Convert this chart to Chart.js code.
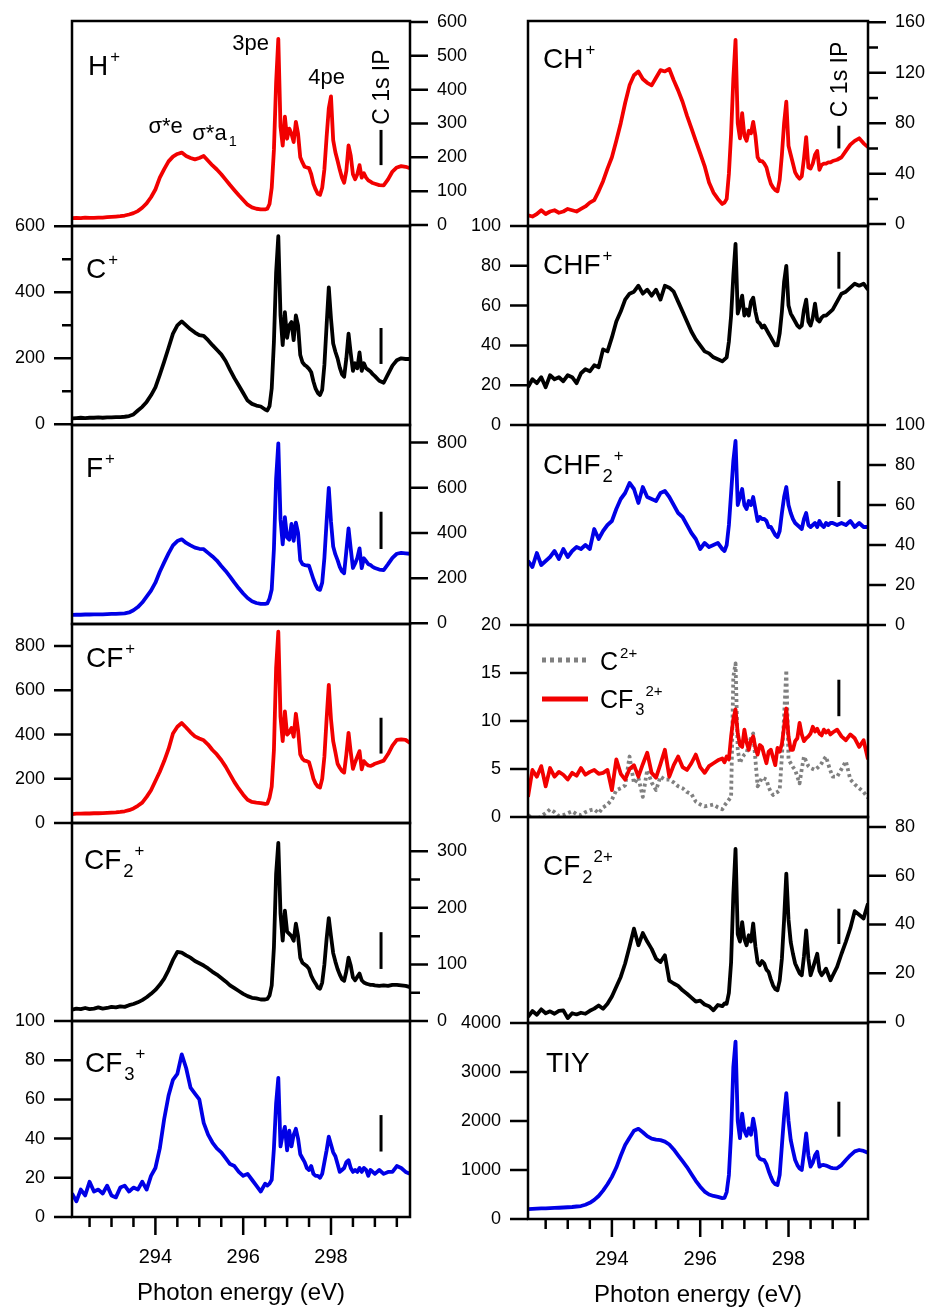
<!DOCTYPE html>
<html>
<head>
<meta charset="utf-8">
<title>CHF3 C 1s partial ion yields</title>
<script src="https://cdn.jsdelivr.net/npm/chart.js@4.4.1/dist/chart.umd.min.js"></script>
<style>
  html, body { margin: 0; padding: 0; background: #fff; }
  #fig { position: relative; width: 933px; height: 1308px; overflow: hidden; }
  #fig canvas { position: absolute; }
</style>
</head>
<body>
<div id="fig"></div>
<script>
// photon energy grid (eV), finer across the Rydberg region
var energy = [
  292.1, 292.2, 292.3, 292.4, 292.5, 292.6, 292.7, 292.8, 292.9, 293.0, 293.1, 293.2, 293.3, 293.4, 293.5,
  293.6, 293.7, 293.8, 293.9, 294.0, 294.1, 294.2, 294.3, 294.4, 294.5, 294.6, 294.7, 294.8, 294.9, 295.0,
  295.1, 295.2, 295.3, 295.4, 295.5, 295.6, 295.7, 295.8, 295.9, 296.0, 296.1, 296.2, 296.3, 296.4, 296.5,
  296.55, 296.6, 296.65, 296.7, 296.75, 296.8, 296.85, 296.9, 296.95, 297.0,
  297.05, 297.1, 297.15, 297.2, 297.25, 297.3, 297.35, 297.4, 297.45, 297.5,
  297.55, 297.6, 297.65, 297.7, 297.75, 297.8, 297.85, 297.9, 297.95, 298.0,
  298.05, 298.1, 298.15, 298.2, 298.25, 298.3, 298.35, 298.4, 298.45, 298.5,
  298.55, 298.6, 298.65, 298.7, 298.75, 298.8, 298.85, 298.9, 298.95, 299.0,
  299.1, 299.2, 299.3, 299.4, 299.5, 299.6, 299.7, 299.8
];

var hPlus = [
  20, 21, 20, 22, 21, 21, 22, 22, 23, 24, 25, 26, 28, 31, 35,
  41, 51, 64, 82, 105, 140, 165, 188, 202, 210, 214, 204, 198, 194, 198,
  204, 190, 176, 164, 150, 134, 118, 103, 88, 74, 60, 52, 48, 46, 46,
  48, 62, 110, 222, 420, 550, 290, 235, 320, 255,
  285, 270, 245, 305, 270, 200, 185, 172, 170, 168,
  150, 122, 105, 92, 89, 110, 165, 260, 345, 380,
  251, 215, 190, 163, 140, 125, 160, 235, 205, 150,
  135, 150, 177, 140, 153, 140, 132, 128, 124, 122,
  118, 117, 135, 158, 170, 174, 172, 168
];
var cPlus = [
  18, 19, 20, 19, 20, 20, 21, 20, 21, 21, 22, 22, 23, 25, 30,
  42, 53, 68, 88, 112, 150, 190, 232, 275, 300, 312, 300, 288, 278, 270,
  268, 255, 240, 226, 212, 192, 165, 140, 118, 95, 72, 62, 57, 54, 45,
  42, 55, 109, 250, 460, 570, 330, 240, 340, 262,
  300, 310, 255, 330, 300, 210, 188, 180, 175, 168,
  158, 130, 108, 95, 89, 105, 180, 300, 415, 320,
  245, 220, 200, 172, 152, 144, 200, 275, 215, 162,
  185, 170, 218, 162, 185, 170, 165, 160, 152, 146,
  132, 126, 152, 178, 194, 200, 198, 198
];
var fPlus = [
  37, 38, 38, 39, 39, 40, 40, 40, 41, 42, 42, 43, 44, 48, 58,
  72, 92, 118, 145, 180, 228, 270, 310, 345, 364, 372, 356, 345, 335, 330,
  328, 312, 296, 278, 254, 232, 207, 180, 155, 132, 112, 98, 90, 86, 86,
  88, 110, 150, 330, 640, 797, 460, 350, 470, 380,
  370, 440, 365, 446, 400, 280, 262, 258, 256, 255,
  225, 195, 170, 152, 148, 180, 290, 450, 600, 450,
  340, 305, 280, 250, 230, 222, 320, 420, 330, 245,
  265, 290, 332, 244, 288, 275, 262, 258, 250, 245,
  238, 236, 262, 290, 308, 312, 310, 308
];
var cfPlus = [
  40, 42, 42, 43, 43, 44, 44, 45, 46, 47, 48, 50, 53, 58, 66,
  78, 92, 118, 148, 190, 232, 280, 335, 405, 435, 452, 432, 410, 392, 382,
  374, 355, 330, 310, 285, 255, 220, 185, 155, 128, 105, 95, 92, 90, 86,
  88, 115, 165, 330, 700, 865, 480, 370, 505, 400,
  410, 430, 390, 494, 420, 310, 290, 282, 280, 275,
  240, 200, 178, 165, 160, 200, 300, 470, 625, 470,
  370, 320, 268, 250, 235, 228, 310, 408, 320, 245,
  275, 300, 325, 243, 280, 268, 260, 258, 262, 268,
  275, 282, 312, 350, 376, 378, 376, 362
];
var cf2Plus = [
  20, 22, 21, 23, 21, 22, 24, 22, 23, 25, 24, 26, 25, 28, 30,
  33, 37, 42, 48, 55, 64, 75, 90, 108, 122, 121, 116, 112, 106, 102,
  98, 93, 87, 82, 76, 70, 63, 58, 53, 48, 44, 41, 40, 38, 38,
  39, 45, 63, 130, 260, 315, 190, 142, 195, 158,
  154, 150, 142, 172, 150, 112, 103, 100, 97, 92,
  80, 72, 66, 59, 57, 68, 100, 145, 182, 150,
  120, 105, 92, 82, 74, 71, 88, 112, 98, 77,
  72, 78, 84, 72, 68, 66, 65, 64, 64, 63,
  62, 63, 62, 64, 64, 63, 62, 60
];
var cf3Plus = [
  12, 8, 14, 11, 18, 13, 14, 12, 16, 11, 10, 15, 16, 13, 15,
  14, 18, 14, 21, 25, 35, 50, 62, 70, 73, 83, 76, 66, 63, 60,
  48, 42, 38, 35, 33, 30, 27, 26, 23, 21, 22, 19, 16, 13, 17,
  16, 17, 19, 35, 58, 71, 36, 42, 46, 34,
  44, 36, 42, 45, 40, 32, 30, 28, 25, 24,
  26, 22, 21, 21, 20, 22, 28, 34, 41, 37,
  33, 31, 27, 23, 24, 25, 28, 29, 25, 23,
  24, 23, 25, 23, 25, 24, 21, 24, 23, 22,
  24, 22, 23, 23, 26, 25, 23, 22
];
var chPlus = [
  7, 6, 8, 11, 8, 10, 11, 9, 10, 12, 11, 10, 12, 14, 17,
  19, 26, 34, 44, 53, 66, 80, 96, 110, 118, 121, 115, 112, 110, 116,
  122, 121, 123, 114, 106, 97, 86, 76, 66, 56, 46, 33, 25, 20, 16,
  17, 20, 40, 72, 115, 146, 80, 68, 88, 70,
  66, 74, 72, 81, 70, 53, 50, 50, 48, 45,
  38, 32, 29, 27, 26, 35, 55, 80, 97, 62,
  55, 48, 41, 38, 36, 38, 52, 69, 45, 44,
  48, 55, 58, 43, 47, 48, 48, 49, 49, 50,
  51, 53, 58, 63, 66, 68, 64, 61
];
var chfPlus = [
  19, 23, 21, 24, 19, 25, 23, 24, 22, 25, 24, 21, 26, 28, 27,
  30, 29, 38, 37, 44, 52, 57, 63, 66, 67, 70, 66, 68, 65, 68,
  63, 70, 69, 67, 62, 57, 52, 47, 43, 40, 37, 36, 34, 33, 32,
  33, 34, 42, 55, 75, 91, 56, 60, 65, 55,
  58, 55, 62, 64, 57, 52, 51, 49, 50, 48,
  46, 44, 42, 40, 40, 46, 57, 72, 80, 60,
  56, 54, 52, 50, 49, 50, 58, 63, 52, 50,
  54, 61, 53, 52, 54, 55, 55, 56, 57, 58,
  62, 66, 67, 69, 71, 70, 71, 68
];
var chf2Plus = [
  32, 29, 36, 30, 32, 34, 37, 33, 38, 34, 37, 39, 38, 40, 38,
  48, 43, 47, 50, 52, 58, 63, 66, 71, 68, 61, 69, 64, 63, 62,
  66, 67, 64, 60, 56, 54, 50, 46, 43, 38, 41, 39, 40, 41, 38,
  37, 40, 50, 66, 82, 92, 60, 64, 68, 60,
  58, 62, 60, 64, 58, 52, 54, 53, 53, 52,
  49, 49, 47, 45, 44, 47, 56, 64, 69, 60,
  56, 53, 51, 50, 49, 48, 53, 56, 50, 49,
  50, 51, 49, 52, 50, 49, 51, 50, 51, 51,
  50, 51, 50, 52, 49, 51, 49, 49
];
var cf3Dication = [
  2.1, 4.9, 4.2, 5.3, 3.2, 5.1, 4.2, 4.7, 4.4, 3.9, 4.6, 4.3, 5.1, 4.4, 4.7,
  4.9, 4.5, 4.6, 4.9, 2.8, 6.0, 4.5, 3.9, 5.0, 5.4, 4.2, 5.5, 6.7, 4.6, 4.1,
  5.5, 7.0, 4.2, 5.4, 6.3, 5.2, 4.9, 5.6, 6.5, 5.2, 4.6, 5.3, 5.6, 5.9, 6.1,
  5.7, 6.3, 6.0, 8.4, 10.2, 11.2, 8.7, 7.5, 7.3, 9.1,
  7.8, 7.0, 8.0, 8.4, 7.2, 6.5, 7.5, 7.3, 6.4, 5.6,
  6.8, 7.0, 6.2, 5.4, 7.2, 6.8, 7.6, 9.4, 11.3, 8.4,
  7.0, 7.0, 7.9, 8.2, 9.8, 8.6, 7.9, 8.2, 8.4, 8.7,
  9.4, 8.9, 9.2, 8.7, 8.5, 9.1, 8.8, 9.0, 8.6, 8.8,
  9.1, 8.4, 8.0, 8.6, 8.2, 7.3, 8.0, 6.0
];
var cDication = [
  0.2, -0.1, -0.3, 0.1, 0.4, 0.8, 0.5, 0.1, 0.2, 0.4, 0.6, 0.3, 0.2, 0.5, 0.7,
  0.8, 0.4, 1.0, 1.3, 1.8, 2.8, 3.0, 3.3, 6.3, 3.5, 4.1, 2.1, 4.9, 3.6, 2.8,
  4.2, 3.9, 3.9, 3.6, 3.2, 3.0, 2.6, 2.4, 1.6, 1.3, 1.1, 1.2, 1.3, 1.0, 0.8,
  1.2, 1.5, 1.8, 2.1, 14.6, 16.0, 7.0, 5.6, 6.2, 6.5,
  6.7, 7.5, 8.3, 8.7, 6.0, 3.2, 3.6, 4.1, 4.0, 3.9,
  3.1, 2.6, 2.3, 2.5, 2.6, 2.8, 6.3, 10.5, 15.3, 6.0,
  5.6, 5.2, 4.9, 4.2, 3.5, 5.0, 6.3, 5.8, 5.3, 5.1,
  5.0, 4.9, 5.1, 5.3, 5.6, 6.0, 6.3, 5.5, 4.8, 4.2,
  4.2, 5.0, 5.8, 3.9, 3.4, 3.0, 2.6, 2.0
];
var cf2Dication = [
  2.1, 4.5, 3.0, 5.2, 3.6, 4.4, 3.4, 4.6, 4.8, 1.6, 3.6, 3.1, 3.8, 3.4, 4.6,
  5.5, 6.8, 5.4, 7.5, 10.5, 14.5, 18.5, 24.0, 31.0, 38.3, 31.5, 36.5, 33.0, 30.0, 26.0,
  24.6, 27.4, 17.0, 15.8, 14.8, 13.0, 11.6, 10.0, 8.4, 8.8, 7.2, 6.5, 4.8, 7.0, 6.5,
  7.6, 7.5, 12, 24.6, 52, 71, 36, 33, 41, 34,
  31.5, 35.6, 33, 40.4, 31, 24.5, 23.3, 25, 24, 21.5,
  20.5, 17.5, 15, 13.5, 13, 17, 26, 42, 60.9, 42,
  32.8, 28, 24, 22, 20, 19.2, 27, 37.6, 26, 19.2,
  22, 25, 28, 21, 19.2, 20.5, 21.9, 19.5, 17.1, 19,
  22.6, 28, 33, 38.5, 45.5, 44, 42.5, 48.6
];
var tiy = [
  200, 205, 210, 215, 215, 220, 225, 230, 235, 240, 245, 255, 265, 290, 330,
  390, 470, 580, 710, 860, 1050, 1290, 1510, 1660, 1800, 1840, 1770, 1690, 1640, 1620,
  1610, 1580, 1520, 1420, 1300, 1180, 1060, 920, 780, 660, 560, 500, 470, 450, 425,
  430, 550, 900, 1750, 3100, 3620, 2000, 1650, 2150, 1800,
  1700, 1850, 1720, 2050, 1800, 1300, 1230, 1210, 1200, 1120,
  980, 860, 760, 710, 694, 900, 1500, 2100, 2570, 2000,
  1612, 1400, 1204, 1100, 1030, 1000, 1350, 1748, 1300, 1068,
  1150, 1300, 1370, 1068, 1100, 1102, 1090, 1070, 1050, 1040,
  1034, 1100, 1204, 1300, 1380, 1408, 1390, 1350
];

// C 1s ionisation potential and the bar drawn at it in each panel (low, high)
var ipEnergy = 299.14;
var ipH = [177, 281], ipC = [183, 292], ipF = [329, 494], ipCF = [314, 476];
var ipCF2 = [92, 157], ipCF3 = [33.4, 52], ipCH = [60, 78], ipCHF = [68.5, 87];
var ipCHF2 = [54, 72], ipDi = [10.5, 14.3], ipCF2Di = [32, 46.5], ipTIY = [1680, 2394];

var xMajor = [294, 296, 298];
var xMinor = [292.5, 293, 293.5, 294.5, 295, 295.5, 296.5, 297, 297.5, 298.5, 299, 299.5];

var RED = '#f20000', BLUE = '#0000e6', BLACK = '#000000', GRAY = '#808080';
var FONT = "'Liberation Sans', Arial, sans-serif";

var cols = [
  { left: 72, width: 338, padL: 72, padR: 70 },
  { left: 528, width: 340, padL: 72, padR: 65 }
];

var panels = [
  { col: 0, top: 21, h: 205, side: 'right', min: -3, max: 603, ticks: [0, 100, 200, 300, 400, 500, 600], minor: [],
    series: [{ data: hPlus, color: RED }], ip: ipH, ipText: 296,
    label: [['H', 'n'], ['+', 'sup']], lx: 16, ly: 54,
    notes: [
      { x: 293.84, y: 272, parts: [['σ*e', 'n']] },
      { x: 294.84, y: 251, parts: [['σ*a', 'n'], ['1', 'sub']] },
      { x: 295.75, y: 517, parts: [['3pe', 'n']] },
      { x: 297.48, y: 417, parts: [['4pe', 'n']] }
    ] },
  { col: 0, top: 226, h: 199, side: 'left', min: -2, max: 601, ticks: [0, 200, 400, 600], minor: [100, 300, 500],
    series: [{ data: cPlus, color: BLACK }], ip: ipC,
    label: [['C', 'n'], ['+', 'sup']], lx: 14, ly: 52 },
  { col: 0, top: 425, h: 199, side: 'right', min: -3, max: 878, ticks: [0, 200, 400, 600, 800], minor: [],
    series: [{ data: fPlus, color: BLUE }], ip: ipF,
    label: [['F', 'n'], ['+', 'sup']], lx: 14, ly: 52 },
  { col: 0, top: 624, h: 199, side: 'left', min: 0, max: 900, ticks: [0, 200, 400, 600, 800], minor: [],
    series: [{ data: cfPlus, color: RED }], ip: ipCF,
    label: [['CF', 'n'], ['+', 'sup']], lx: 14, ly: 43 },
  { col: 0, top: 823, h: 198, side: 'right', min: 0, max: 350, ticks: [0, 100, 200, 300], minor: [50, 150, 250],
    series: [{ data: cf2Plus, color: BLACK }], ip: ipCF2,
    label: [['CF', 'n'], ['2', 'sub'], ['+', 'sup']], lx: 12, ly: 46 },
  { col: 0, top: 1021, h: 196, side: 'left', min: 0, max: 100, ticks: [0, 20, 40, 60, 80, 100], minor: [],
    series: [{ data: cf3Plus, color: BLUE }], ip: ipCF3, bottom: true,
    label: [['CF', 'n'], ['3', 'sub'], ['+', 'sup']], lx: 13, ly: 51 },

  { col: 1, top: 21, h: 205, side: 'right', min: -1.5, max: 161, ticks: [0, 40, 80, 120, 160], minor: [20, 60, 100, 140],
    series: [{ data: chPlus, color: RED }], ip: ipCH, ipText: 84.8,
    label: [['CH', 'n'], ['+', 'sup']], lx: 15, ly: 47 },
  { col: 1, top: 226, h: 199, side: 'left', min: 0, max: 100, ticks: [0, 20, 40, 60, 80, 100], minor: [],
    series: [{ data: chfPlus, color: BLACK }], ip: ipCHF,
    label: [['CHF', 'n'], ['+', 'sup']], lx: 15, ly: 48 },
  { col: 1, top: 425, h: 200, side: 'right', min: 0, max: 100, ticks: [0, 20, 40, 60, 80, 100], minor: [],
    series: [{ data: chf2Plus, color: BLUE }], ip: ipCHF2,
    label: [['CHF', 'n'], ['2', 'sub'], ['+', 'sup']], lx: 15, ly: 49 },
  { col: 1, top: 625, h: 192, side: 'left', min: 0, max: 20, ticks: [0, 5, 10, 15, 20], minor: [],
    series: [{ data: cf3Dication, color: RED }, { data: cDication, color: GRAY, dash: [3, 3] }], ip: ipDi,
    legend: true },
  { col: 1, top: 817, h: 206, side: 'right', min: -0.4, max: 84.1, ticks: [0, 20, 40, 60, 80], minor: [],
    series: [{ data: cf2Dication, color: BLACK }], ip: ipCF2Di,
    label: [['CF', 'n'], ['2', 'sub'], ['2+', 'sup']], lx: 15, ly: 58 },
  { col: 1, top: 1023, h: 196, side: 'left', min: 0, max: 4000, ticks: [0, 1000, 2000, 3000, 4000], minor: [],
    series: [{ data: tiy, color: BLUE }], ip: ipTIY, bottom: true,
    label: [['TIY', 'n']], lx: 18, ly: 49 }
];

// text with sub/superscripts, left-aligned at (x, y) baseline
function drawRich(ctx, x, y, parts, base) {
  parts.forEach(function (p) {
    var kind = p[1];
    var size = kind === 'sub' ? base * 0.66 : kind === 'sup' ? base * 0.6 : base;
    var dy = kind === 'sub' ? base * 0.28 : kind === 'sup' ? -base * 0.47 : 0;
    ctx.font = size + 'px ' + FONT;
    ctx.fillText(p[0], x, y + dy);
    x += ctx.measureText(p[0]).width + (kind === 'sub' ? 1 : 2);
  });
}

function tickLine(ctx, x1, y1, x2, y2) {
  ctx.moveTo(x1, y1);
  ctx.lineTo(x2, y2);
}

// the scales ask for room around their end labels; the panels butt together, so drop it
function noScalePadding(axis) {
  axis.paddingTop = 0;
  axis.paddingBottom = 0;
  axis.paddingLeft = 0;
  axis.paddingRight = 0;
}

function makeDecor(p) {
  return {
    id: 'decor',
    afterDraw: function (chart) {
      var ctx = chart.ctx, a = chart.chartArea;
      var xs = chart.scales.x, ys = chart.scales.y;
      ctx.save();
      ctx.strokeStyle = '#000';
      ctx.lineWidth = 2.5;
      ctx.strokeRect(a.left, a.top, a.right - a.left, a.bottom - a.top);

      var x0 = p.side === 'left' ? a.left : a.right;
      var dir = p.side === 'left' ? -1 : 1;
      ctx.beginPath();
      p.ticks.forEach(function (v) {
        var y = ys.getPixelForValue(v);
        tickLine(ctx, x0, y, x0 + dir * 18, y);
      });
      p.minor.forEach(function (v) {
        var y = ys.getPixelForValue(v);
        tickLine(ctx, x0, y, x0 + dir * 10, y);
      });
      if (p.bottom) {
        xMajor.forEach(function (v) {
          var x = xs.getPixelForValue(v);
          tickLine(ctx, x, a.bottom, x, a.bottom + 18);
        });
        xMinor.forEach(function (v) {
          var x = xs.getPixelForValue(v);
          tickLine(ctx, x, a.bottom, x, a.bottom + 10);
        });
      }
      ctx.stroke();

      ctx.fillStyle = '#000';
      ctx.textAlign = 'left';
      ctx.textBaseline = 'alphabetic';
      if (p.label) drawRich(ctx, a.left + p.lx, a.top + p.ly, p.label, 28);

      if (p.notes) {
        p.notes.forEach(function (n) {
          drawRich(ctx, xs.getPixelForValue(n.x), ys.getPixelForValue(n.y), n.parts, 22);
        });
      }

      if (p.ipText !== undefined) {
        ctx.save();
        ctx.translate(xs.getPixelForValue(ipEnergy) + 8, ys.getPixelForValue(p.ipText));
        ctx.rotate(-Math.PI / 2);
        ctx.font = '23px ' + FONT;
        ctx.fillText('C 1s IP', 0, 0);
        ctx.restore();
      }

      if (p.legend) {
        ctx.lineWidth = 5;
        ctx.strokeStyle = GRAY;
        ctx.setLineDash([4, 4]);
        ctx.beginPath();
        tickLine(ctx, a.left + 14, a.top + 35, a.left + 60, a.top + 35);
        ctx.stroke();
        ctx.setLineDash([]);
        ctx.strokeStyle = RED;
        ctx.beginPath();
        tickLine(ctx, a.left + 14, a.top + 74, a.left + 60, a.top + 74);
        ctx.stroke();
        drawRich(ctx, a.left + 72, a.top + 45, [['C', 'n'], ['2+', 'sup']], 25);
        drawRich(ctx, a.left + 72, a.top + 83, [['CF', 'n'], ['3', 'sub'], ['2+', 'sup']], 25);
      }
      ctx.restore();
    }
  };
}

var fig = document.getElementById('fig');

panels.forEach(function (p) {
  var c = cols[p.col];
  var padTop = 14, padBottom = p.bottom ? 0 : 14, xAxisH = p.bottom ? 91 : 0;
  var canvas = document.createElement('canvas');
  canvas.width = c.padL + c.width + c.padR;
  canvas.height = padTop + p.h + padBottom + xAxisH;
  canvas.style.left = (c.left - c.padL) + 'px';
  canvas.style.top = (p.top - padTop) + 'px';
  fig.appendChild(canvas);

  var datasets = p.series.map(function (s) {
    return {
      data: energy.map(function (e, i) { return { x: e, y: s.data[i] }; }),
      borderColor: s.color,
      borderWidth: 3.8,
      borderDash: s.dash || [],
      borderJoinStyle: 'round',
      pointRadius: 0,
      tension: 0
    };
  });
  datasets.push({
    data: [{ x: ipEnergy, y: p.ip[0] }, { x: ipEnergy, y: p.ip[1] }],
    borderColor: BLACK,
    borderWidth: 3,
    pointRadius: 0
  });

  new Chart(canvas.getContext('2d'), {
    type: 'line',
    data: { datasets: datasets },
    options: {
      responsive: false,
      animation: false,
      layout: {
        autoPadding: false,
        padding: {
          top: padTop,
          bottom: padBottom,
          left: p.side === 'right' ? c.padL : 0,
          right: p.side === 'left' ? c.padR : 0
        }
      },
      plugins: { legend: { display: false }, tooltip: { enabled: false } },
      scales: {
        x: {
          type: 'linear',
          min: 292.1,
          max: 299.8,
          display: !!p.bottom,
          grid: { display: false, drawTicks: false },
          border: { display: false },
          afterBuildTicks: function (axis) {
            axis.ticks = xMajor.map(function (v) { return { value: v }; });
          },
          ticks: {
            padding: 28,
            autoSkip: false,
            maxRotation: 0,
            color: '#000',
            font: { family: FONT, size: 20 },
            callback: function (v) { return String(v); }
          },
          title: {
            display: true,
            text: 'Photon energy (eV)',
            color: '#000',
            font: { family: FONT, size: 24 },
            padding: 0
          },
          afterFit: function (axis) {
            noScalePadding(axis);
            axis.height = xAxisH;
          }
        },
        y: {
          type: 'linear',
          position: p.side,
          min: p.min,
          max: p.max,
          grid: { display: false, drawTicks: false },
          border: { display: false },
          afterBuildTicks: function (axis) {
            axis.ticks = p.ticks.map(function (v) { return { value: v }; });
          },
          ticks: {
            padding: 27,
            autoSkip: false,
            color: '#000',
            font: { family: FONT, size: 18 },
            callback: function (v) { return String(v); }
          },
          afterFit: function (axis) {
            noScalePadding(axis);
            axis.width = p.side === 'left' ? c.padL : c.padR;
          }
        }
      }
    },
    plugins: [makeDecor(p)]
  });
});
</script>
</body>
</html>
